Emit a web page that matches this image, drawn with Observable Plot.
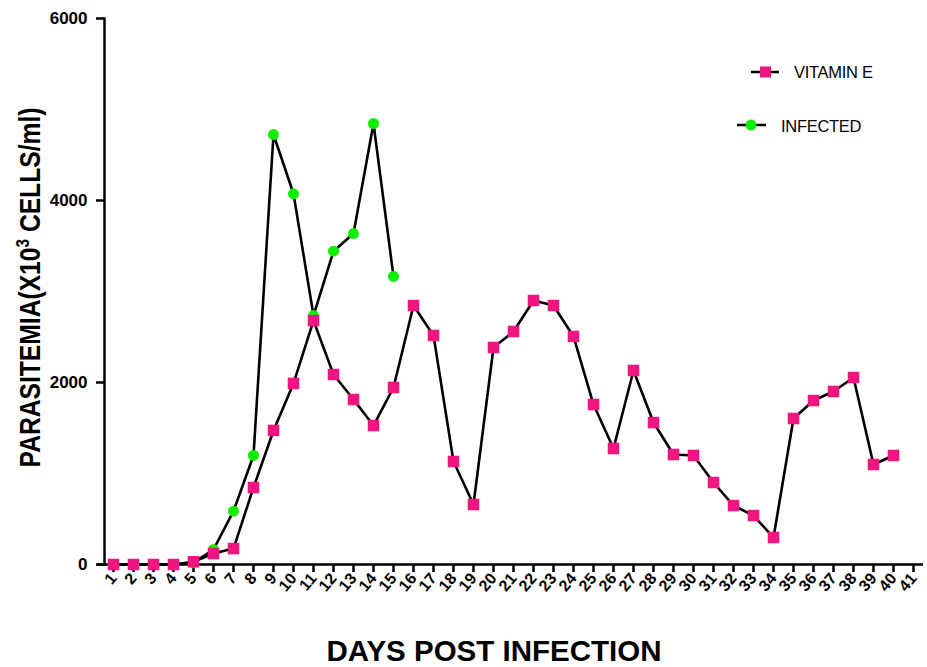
<!DOCTYPE html>
<html><head><meta charset="utf-8">
<script src="https://cdn.jsdelivr.net/npm/d3@7"></script>
<script src="https://cdn.jsdelivr.net/npm/@observablehq/plot@0.6"></script>
<style>
body{margin:0;background:#fff}
#chart{position:relative;width:927px;height:667px}
</style>
</head><body><div id="chart"></div>
<script>
const dayTicks = [1,2,3,4,5,6,7,8,9,10,11,12,13,14,15,16,17,18,19,20,21,22,23,24,25,26,27,28,29,30,31,32,33,34,35,36,37,38,39,40,41];
const vitaminDays = [1,2,3,4,5,6,7,8,9,10,11,12,13,14,15,16,17,18,19,20,21,22,23,24,25,26,27,28,29,30,31,32,33,34,35,36,37,38,39,40];
const vitaminE = [0,0,0,0,30,120,175,846,1473,1990,2680,2088,1813,1527,1945,2846,2517,1132,659,2385,2560,2901,2846,2506,1758,1275,2132,1560,1209,1198,901,648,538,297,1604,1802,1901,2055,1099,1198];
const infectedDays = [1,2,3,4,5,6,7,8,9,10,11,12,13,14,15];
const infected = [0,0,0,0,20,165,586,1198,4725,4074,2736,3443,3637,4846,3165];
const yTicks = [0,2000,4000,6000];
const seriesNames = ["VITAMIN E","INFECTED"];
const pink = "#F2157F", green = "#10EE00";

const vit = vitaminDays.map((d,i)=>({day:d, v:vitaminE[i]}));
const inf = infectedDays.map((d,i)=>({day:d, v:infected[i]}));
const font = "Liberation Sans, Arial, Helvetica, sans-serif";

const plot = Plot.plot({
  width: 927, height: 667,
  marginLeft: 104, marginRight: 4, marginTop: 18, marginBottom: 103,
  style: {fontFamily: font, background: "#fff", overflow: "visible", color: "#000"},
  x: {domain: [0.55, 41.5], axis: null},
  y: {domain: [0, 6000], axis: null},
  marks: [
    Plot.axisX({ticks: dayTicks, label: null, tickSize: 8, tickPadding: 3, tickRotate: -50, fontSize: 16, fontWeight: "bold", strokeWidth: 2.5, stroke: "#000", fill: "#000", tickFormat: d => String(d)}),
    Plot.axisY({ticks: yTicks, label: null, tickSize: 8, tickPadding: 9, fontSize: 17, fontWeight: "bold", strokeWidth: 2.5, stroke: "#000", fill: "#000", tickFormat: d => String(d)}),
    Plot.frame({anchor: "left", strokeWidth: 2.5, stroke: "#000"}),
    Plot.ruleY([0], {x1: 0.2, x2: 41.5, stroke: "#000", strokeWidth: 2.5}),
    Plot.line(inf, {x: "day", y: "v", stroke: "#000", strokeWidth: 2.6}),
    Plot.dot(inf, {x: "day", y: "v", r: 5.5, fill: green, stroke: "none", symbol: "circle"}),
    Plot.line(vit, {x: "day", y: "v", stroke: "#000", strokeWidth: 2.6}),
    Plot.dot(vit, {x: "day", y: "v", r: 6.5, fill: pink, stroke: "none", symbol: "square"})
  ]
});
document.getElementById("chart").appendChild(plot);

const svg = d3.select(plot);

// axis titles
svg.append("text").attr("x", 494).attr("y", 661).attr("text-anchor", "middle")
  .attr("font-family", font).attr("font-weight", "bold").attr("font-size", 29.5).attr("fill", "#000")
  .text("DAYS POST INFECTION");
const yl = svg.append("text").attr("transform", "translate(40,287.5) rotate(-90) scale(0.85,1)").attr("text-anchor", "middle")
  .attr("font-family", font).attr("font-weight", "bold").attr("font-size", 29).attr("fill", "#000");
yl.append("tspan").text("PARASITEMIA(X10");
yl.append("tspan").attr("font-size", 18).attr("dy", -11).text("3");
yl.append("tspan").attr("dy", 11).text(" CELLS/ml)");

// legend
const leg = svg.append("g").attr("font-family", font).attr("font-size", 16.5).attr("fill", "#000").attr("text-anchor", "start");
leg.append("line").attr("x1", 751).attr("x2", 779).attr("y1", 72).attr("y2", 72).attr("stroke", "#000").attr("stroke-width", 2.5);
leg.append("rect").attr("x", 760).attr("y", 66.5).attr("width", 11).attr("height", 11).attr("fill", pink);
leg.append("text").attr("x", 794).attr("y", 78).attr("letter-spacing", -0.3).text(seriesNames[0]);
leg.append("line").attr("x1", 737).attr("x2", 766).attr("y1", 125).attr("y2", 125).attr("stroke", "#000").attr("stroke-width", 2.5);
leg.append("circle").attr("cx", 751).attr("cy", 125).attr("r", 5.5).attr("fill", green);
leg.append("text").attr("x", 781).attr("y", 131.5).attr("letter-spacing", -0.3).text(seriesNames[1]);
</script>
</body></html>
